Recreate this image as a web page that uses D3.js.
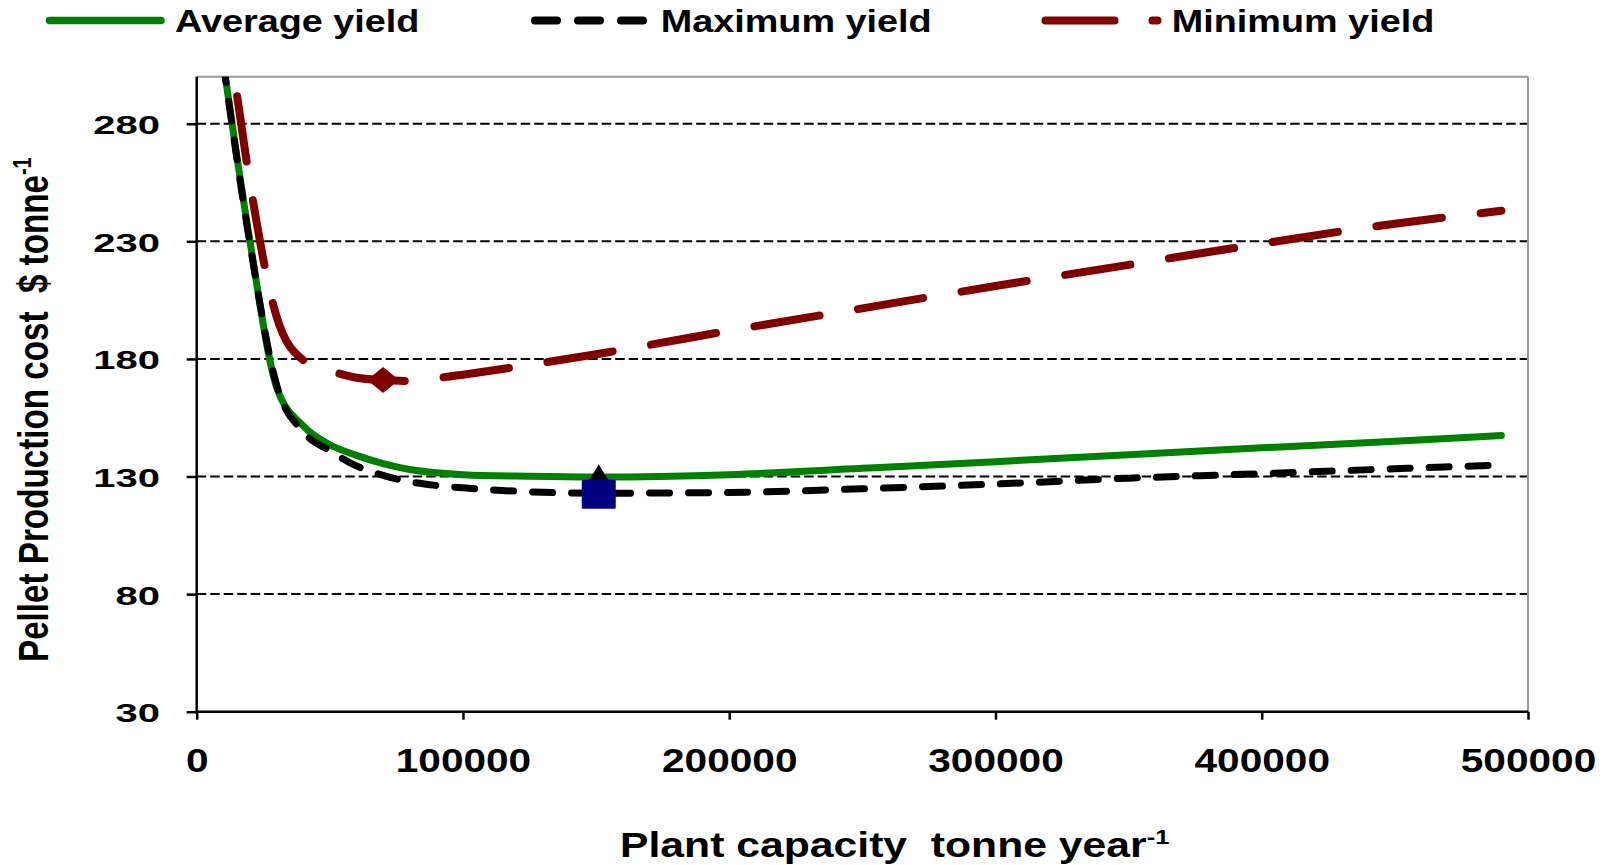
<!DOCTYPE html>
<html>
<head>
<meta charset="utf-8">
<script src="https://cdn.jsdelivr.net/npm/d3@7/dist/d3.min.js"></script>
<style>
  html, body { margin: 0; padding: 0; background: #fff; }
  svg { display: block; }
  text { font-family: "Liberation Sans", Arial, Helvetica, sans-serif; font-weight: bold; fill: #000; white-space: pre; }
</style>
</head>
<body>
<svg id="chart" width="1611" height="865"></svg>
<script>
// ---- data ----
const capacity = [10000, 20000, 30000, 40000, 50000, 60000, 70000, 80000, 90000, 100000, 125000, 150000, 200000, 250000, 300000, 350000, 400000, 450000, 490000];
const averageYield = [306, 230, 168, 151.5, 143.5, 139, 135.5, 133, 131.6, 130.8, 130.1, 129.8, 130.8, 133.5, 136.3, 139.3, 142.2, 145, 147.4];
const maximumYield = [306, 229, 169, 149, 141, 134.5, 130.5, 127.8, 126.2, 125.2, 123.5, 122.9, 123.2, 124.8, 126.8, 129.3, 131.2, 133.3, 134.9];
const minimumYield = [336, 255, 198, 179.5, 175, 172, 171, 170.6, 171.8, 173.3, 177.5, 182, 192, 201.5, 211, 220, 229, 237.5, 243];
const markerX = [70000, 151000, 151000];
const markerY = [171, 130.5, 122.5];
const markerShape = ["diamond", "triangle", "square"];
const xTicks = [0, 100000, 200000, 300000, 400000, 500000];
const yTicks = [30, 80, 130, 180, 230, 280];
const seriesNames = ["Average yield", "Maximum yield", "Minimum yield"];

// ---- layout ----
const L = 196.7, R = 1528, T = 76.7, B = 711.7;
const svg = d3.select("#chart");
const x = d3.scaleLinear().domain([0, 500000]).range([L, R]);
const y = d3.scaleLinear().domain([30, 300]).range([B, T]);

// clip
svg.append("defs").append("clipPath").attr("id", "plotclip")
  .append("rect").attr("x", L).attr("y", T).attr("width", R - L).attr("height", B - T);

// gridlines
svg.append("g").selectAll("line").data(yTicks.filter(d => d > 30)).join("line")
  .attr("x1", L).attr("x2", R).attr("y1", d => y(d)).attr("y2", d => y(d))
  .attr("stroke", "#000").attr("stroke-width", 2).attr("stroke-dasharray", "9.5 4");

// top & right border
svg.append("line").attr("x1", L).attr("x2", R).attr("y1", T).attr("y2", T).attr("stroke", "#999").attr("stroke-width", 2);
svg.append("line").attr("x1", R).attr("x2", R).attr("y1", T).attr("y2", B).attr("stroke", "#999").attr("stroke-width", 2);

// axes
const yAxis = svg.append("g").attr("transform", `translate(${L},0)`)
  .call(d3.axisLeft(y).tickValues(yTicks).tickSize(10).tickSizeOuter(0));
yAxis.select(".domain").attr("stroke", "#000").attr("stroke-width", 2.5).attr("d", `M0,${T}V${B}`);
yAxis.selectAll(".tick line").attr("stroke", "#000").attr("stroke-width", 2.5);
yAxis.selectAll(".tick text")
  .attr("x", null).attr("dy", null)
  .attr("text-anchor", "end")
  .attr("transform", `translate(${160 - L},10) scale(1.55,1)`)
  .style("font-size", "25.8px").attr("font-family", null).attr("font-size", null)
  .text(d => d);

const xAxis = svg.append("g").attr("transform", `translate(0,${B})`)
  .call(d3.axisBottom(x).tickValues(xTicks).tickSize(8).tickSizeOuter(0));
xAxis.select(".domain").attr("stroke", "#000").attr("stroke-width", 2.5).attr("d", `M${L},0H${R}`);
xAxis.selectAll(".tick line").attr("stroke", "#000").attr("stroke-width", 2.5);
xAxis.selectAll(".tick text")
  .attr("y", null).attr("dy", null)
  .attr("text-anchor", "middle")
  .attr("transform", `translate(0,${771.7 - B}) scale(1.25,1)`)
  .style("font-size", "32.5px").attr("font-family", null).attr("font-size", null)
  .text(d => d);
svg.selectAll(".tick text").attr("fill", "#000");

// lines
const lineGen = d3.line().x((d, i) => x(capacity[i])).y(d => y(d)).curve(d3.curveMonotoneX);
const plot = svg.append("g").attr("clip-path", "url(#plotclip)");
plot.append("path").attr("d", lineGen(averageYield))
  .attr("fill", "none").attr("stroke", "#008000").attr("stroke-width", 7).attr("stroke-linecap", "round").attr("stroke-linejoin", "round");
plot.append("path").attr("d", lineGen(maximumYield))
  .attr("fill", "none").attr("stroke", "#000").attr("stroke-width", 7).attr("stroke-linecap", "round")
  .attr("stroke-dasharray", "20 19");
plot.append("path").attr("d", lineGen(minimumYield))
  .attr("fill", "none").attr("stroke", "#800000").attr("stroke-width", 8).attr("stroke-linecap", "round")
  .attr("stroke-dasharray", "66 39");

// markers
const mk = svg.append("g");
markerShape.forEach((s, i) => {
  const cx = x(markerX[i]), cy = y(markerY[i]);
  if (s === "diamond") {
    mk.append("path").attr("d", `M${cx},${cy - 13}L${cx + 16},${cy}L${cx},${cy + 13}L${cx - 16},${cy}Z`).attr("fill", "#800000");
  } else if (s === "triangle") {
    mk.append("path").attr("d", `M${cx},${cy - 11}L${cx + 11.5},${cy + 8}L${cx - 11.5},${cy + 8}Z`).attr("fill", "#000");
  } else {
    mk.append("rect").attr("x", cx - 17).attr("y", cy - 14.5).attr("width", 34).attr("height", 29).attr("rx", 1.5).attr("fill", "#000080");
  }
});

// legend
const lg = svg.append("g");
lg.append("line").attr("x1", 49.5).attr("x2", 161).attr("y1", 20.5).attr("y2", 20.5)
  .attr("stroke", "#008000").attr("stroke-width", 7.5).attr("stroke-linecap", "round");
lg.append("line").attr("x1", 535).attr("x2", 643).attr("y1", 20.5).attr("y2", 20.5)
  .attr("stroke", "#000").attr("stroke-width", 8).attr("stroke-linecap", "round").attr("stroke-dasharray", "22 21");
lg.append("line").attr("x1", 1045.5).attr("x2", 1157.5).attr("y1", 20.5).attr("y2", 20.5)
  .attr("stroke", "#800000").attr("stroke-width", 8).attr("stroke-linecap", "round").attr("stroke-dasharray", "69 38");
const legendX = [175, 660.7, 1171.7];
seriesNames.forEach((n, i) => {
  lg.append("text").attr("transform", `translate(${legendX[i]},32.3) scale(1.22,1)`)
    .style("font-size", "31px").text(n);
});

// axis titles
const xt = svg.append("text").attr("transform", "translate(620,857) scale(1.22,1)").style("font-size", "35px");
xt.append("tspan").text("Plant capacity  tonne year");
xt.append("tspan").attr("dy", -13).style("font-size", "21px").text("-1");

const yt = svg.append("text").attr("transform", "translate(48.3,662) scale(1.3,1) rotate(-90)").style("font-size", "33.2px");
yt.append("tspan").text("Pellet Production cost  $ tonne");
yt.append("tspan").attr("dy", -13).style("font-size", "20px").text("-1");
</script>
</body>
</html>
